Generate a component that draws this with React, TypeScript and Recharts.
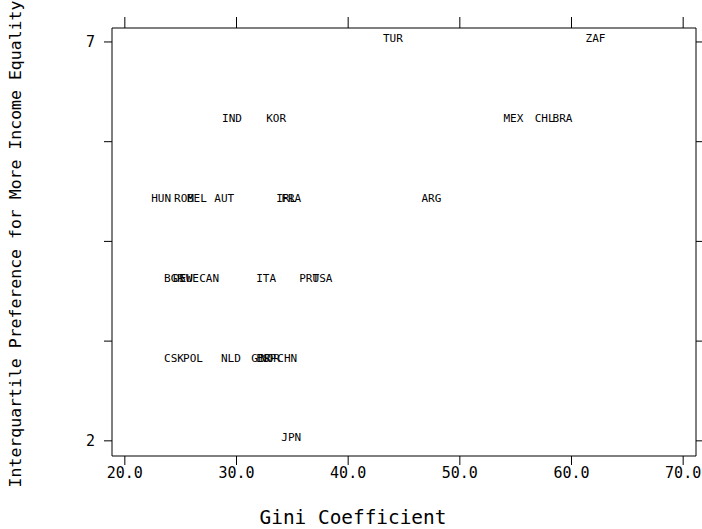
import React from "react"
import { ScatterChart, Scatter, XAxis, YAxis } from "recharts"

const MONO = "'DejaVu Sans Mono', monospace"

// country codes, Gini coefficient, interquartile preference
const codes = [
  "TUR", "ZAF",
  "IND", "KOR", "MEX", "CHL", "BRA",
  "HUN", "ROM", "BEL", "AUT", "IRL", "FRA", "ARG",
  "BGR", "DEU", "SWE", "CAN", "ITA", "PRT", "USA",
  "CSK", "POL", "NLD", "GBR", "ESP", "NOR", "CHN",
  "JPN",
]
const gini = [
  44.0, 62.15,
  29.6, 33.55, 54.8, 57.6, 59.2,
  23.25, 25.3, 26.45, 28.9, 34.45, 34.9, 47.45,
  24.4, 25.2, 25.75, 27.55, 32.65, 36.5, 37.7,
  24.4, 26.1, 29.5, 32.2, 32.65, 33.0, 34.55,
  34.9,
]
const pref = [
  7, 7,
  6, 6, 6, 6, 6,
  5, 5, 5, 5, 5, 5, 5,
  4, 4, 4, 4, 4, 4, 4,
  3, 3, 3, 3, 3, 3, 3,
  2,
]

const xTicks = [20, 30, 40, 50, 60, 70]
const yTicks = [2, 3.25, 4.5, 5.75, 7]
const yTickLabels = ["2", "7"]

const xDomain: [number, number] = [18.85, 71.15]
const yDomain: [number, number] = [1.81, 7.175]

const data = codes.map((code, i) => ({ code, gini: gini[i], pref: pref[i] }))

// each point is drawn as its country code
const CodeMark = (props: any) => {
  const { cx, cy, payload } = props
  return (
    <text x={cx} y={cy + 0.5} textAnchor="middle" fontFamily={MONO} fontSize={11} fill="#000">
      {payload.code}
    </text>
  )
}

// the mirrored axes need a series of their own, this one draws nothing
const NoMark = () => <g />

const XTitle = (props: any) => {
  const { viewBox } = props
  return (
    <text
      x={viewBox.x + viewBox.width / 2 - 51}
      y={viewBox.y + viewBox.height - 5}
      textAnchor="middle"
      fontFamily={MONO}
      fontSize={19.4}
      fill="#000"
    >
      Gini Coefficient
    </text>
  )
}

const YTitle = (props: any) => {
  const { viewBox } = props
  const x = viewBox.x + 15
  const y = viewBox.y + viewBox.height / 2 + 2
  return (
    <text
      x={x}
      y={y}
      transform={`rotate(-90 ${x} ${y})`}
      textAnchor="middle"
      dominantBaseline="central"
      fontFamily={MONO}
      fontSize={16.5}
      fill="#000"
    >
      Interquartile Preference for More Income Equality
    </text>
  )
}

const noLabel = () => ""

export default function App() {
  return (
    <div style={{ position: "absolute", left: 0, top: 0, background: "#fff" }}>
      <ScatterChart width={702} height={529} margin={{ top: 27, right: 5, bottom: 0, left: 0 }}>
        <XAxis
          xAxisId="b"
          type="number"
          dataKey="gini"
          domain={xDomain}
          ticks={xTicks}
          interval={0}
          allowDataOverflow
          height={73}
          tickSize={9}
          tickMargin={2}
          tickFormatter={(v: number) => v.toFixed(1)}
          stroke="#000"
          tick={{ fill: "#000", fontSize: 15, fontFamily: MONO }}
          label={{ content: XTitle }}
        />
        <XAxis
          xAxisId="t"
          orientation="top"
          type="number"
          dataKey="gini"
          domain={xDomain}
          ticks={xTicks}
          interval={0}
          allowDataOverflow
          height={1}
          tickSize={11}
          tickFormatter={noLabel}
          stroke="#000"
        />
        <YAxis
          yAxisId="l"
          type="number"
          dataKey="pref"
          domain={yDomain}
          ticks={yTicks}
          interval={0}
          allowDataOverflow
          width={112}
          tickSize={8}
          tickMargin={9}
          tickFormatter={(v: number) => (yTickLabels.includes(String(v)) ? String(v) : "")}
          stroke="#000"
          tick={{ fill: "#000", fontSize: 15, fontFamily: MONO }}
          label={{ content: YTitle }}
        />
        <YAxis
          yAxisId="r"
          orientation="right"
          type="number"
          dataKey="pref"
          domain={yDomain}
          ticks={yTicks}
          interval={0}
          allowDataOverflow
          width={1}
          tickSize={8}
          tickFormatter={noLabel}
          stroke="#000"
        />
        <Scatter xAxisId="t" yAxisId="r" data={data} shape={NoMark} isAnimationActive={false} />
        <Scatter xAxisId="b" yAxisId="l" data={data} shape={CodeMark} isAnimationActive={false} />
      </ScatterChart>
    </div>
  )
}
